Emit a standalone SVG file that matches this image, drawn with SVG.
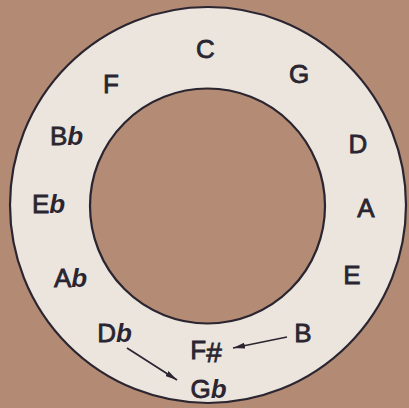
<svg xmlns="http://www.w3.org/2000/svg" width="409" height="408" viewBox="0 0 409 408">
  <defs>
    <style>
      .ring { fill: #ebe5de; stroke: #2a2530; stroke-width: 2.2; }
      .hole { fill: #b48b74; stroke: #2a2530; stroke-width: 2.2; }
      .lbl { font-family: "Liberation Sans", "DejaVu Sans", sans-serif; font-size: 26px; fill: #2a2530; stroke: #2a2530; stroke-width: 0.8; text-anchor: middle; }
      .flat { font-style: italic; font-weight: bold; stroke-width: 0; letter-spacing: -1px; }
      .sharp { font-size: 28px; }
      .conn { stroke: #2a2530; stroke-width: 1.6; fill: none; marker-end: url(#ah); }
    </style>
    <marker id="ah" viewBox="0 0 12 6" refX="12" refY="3" markerWidth="12" markerHeight="6" markerUnits="userSpaceOnUse" orient="auto">
      <path d="M0,0 L12,3 L0,6 Z" fill="#2a2530"/>
    </marker>
  </defs>
  <rect width="409" height="408" fill="#b38a73"/>
  <circle class="ring" cx="208" cy="205" r="198"/>
  <circle class="hole" cx="207.5" cy="206" r="117.5"/>

  <g id="C"><text class="lbl" x="205.5" y="58">C</text></g>
  <g id="G"><text class="lbl" x="299" y="83">G</text></g>
  <g id="D"><text class="lbl" x="358" y="153">D</text></g>
  <g id="A"><text class="lbl" x="366" y="217">A</text></g>
  <g id="E"><text class="lbl" x="352" y="284">E</text></g>
  <g id="B"><text class="lbl" x="303" y="342">B</text></g>
  <g id="Fsharp"><text class="lbl" x="206" y="359">F<tspan class="sharp" dy="3">#</tspan></text></g>
  <g id="Gflat"><text class="lbl" x="208" y="398">G<tspan class="flat">b</tspan></text></g>
  <g id="Dflat"><text class="lbl" x="114" y="342">D<tspan class="flat">b</tspan></text></g>
  <g id="Aflat"><text class="lbl" x="70" y="287">A<tspan class="flat">b</tspan></text></g>
  <g id="Eflat"><text class="lbl" x="48" y="213">E<tspan class="flat">b</tspan></text></g>
  <g id="Bflat"><text class="lbl" x="66" y="145">B<tspan class="flat">b</tspan></text></g>
  <g id="F"><text class="lbl" x="111" y="93">F</text></g>

  <g id="connectors">
    <line class="conn" x1="287" y1="337" x2="233" y2="348"/>
    <line class="conn" x1="127" y1="348" x2="177" y2="380"/>
  </g>
</svg>
